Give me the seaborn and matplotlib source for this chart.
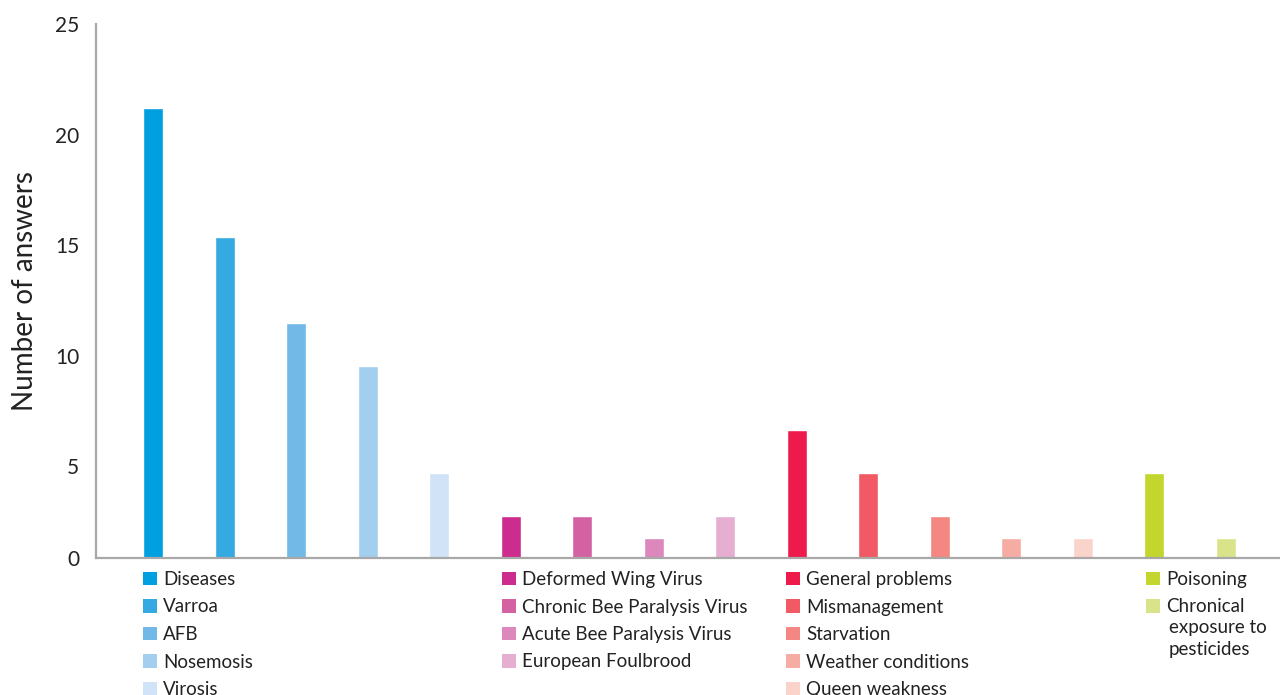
import matplotlib
matplotlib.use("Agg")
import matplotlib.pyplot as plt
import seaborn as sns
import pandas as pd
from matplotlib.patches import Patch

# values
causes = ["Diseases", "Varroa", "AFB", "Nosemosis", "Virosis",
          "Deformed Wing Virus", "Chronic Bee Paralysis Virus",
          "Acute Bee Paralysis Virus", "European Foulbrood",
          "General problems", "Mismanagement", "Starvation",
          "Weather conditions", "Queen weakness",
          "Poisoning", "Chronical exposure to pesticides"]
answers = [21.2, 15.36, 11.47, 9.52, 4.68,
           2.73, 2.73, 1.73, 2.73,
           6.63, 4.68, 2.73, 1.73, 1.73,
           4.68, 1.73]
bar_colors = ["#009FDF", "#35A9E1", "#72B9E7", "#A3CFEF", "#D0E3F7",
              "#CB2C8E", "#D462A3", "#DC88BC", "#E6AED0",
              "#EE1A4B", "#F15A64", "#F48781", "#F7ACA3", "#FAD3CB",
              "#C2D62E", "#D9E48A"]
legend_labels = causes[:-1] + ["Chronical"]
extra_lines = ["exposure to", "pesticides"]
legend_groups = [[0, 1, 2, 3, 4], [5, 6, 7, 8], [9, 10, 11, 12, 13], [14, 15]]
y_ticks = [0.84, 5, 10, 15, 20, 25]
y_ticklabels = ["0", "5", "10", "15", "20", "25"]

sns.set_theme(style="white")
plt.rcParams['font.family'] = ['Lato', 'DejaVu Sans']

fig = plt.figure(figsize=(12.8, 6.95), dpi=100)
ax = fig.add_axes([0.075, 0.197, 0.925, 0.768])

df = pd.DataFrame({"cause": causes, "answers": answers})
sns.barplot(data=df, x="cause", y="answers", hue="cause", palette=bar_colors,
            width=0.28, saturation=1, legend=False, ax=ax)

ax.set_xlim(-0.8, 15.76)
ax.set_ylim(0.84, 25)
ax.set_yticks(y_ticks)
ax.set_yticklabels(y_ticklabels, fontsize=15, color="#222222")
ax.set_xticks([])
ax.set_xlabel("")
ax.set_ylabel("Number of answers", fontsize=20, color="#222222", labelpad=12)
ax.tick_params(axis="y", length=0, pad=12)

for side in ["top", "right"]:
    ax.spines[side].set_visible(False)
for side in ["left", "bottom"]:
    ax.spines[side].set_color("#A8A8A8")
    ax.spines[side].set_linewidth(1.6)

# legend split in four columns under the bars
col_x = [143, 502, 786, 1146]
for gx, group in zip(col_x, legend_groups):
    handles = [Patch(facecolor=bar_colors[i], edgecolor="none") for i in group]
    labels = [legend_labels[i] for i in group]
    fig.legend(handles, labels, loc="upper left",
               bbox_to_anchor=(gx / 1280, 1 - 571 / 695),
               frameon=False, fontsize=13.5, borderpad=0, borderaxespad=0,
               handlelength=0.72, handleheight=0.72, handletextpad=0.35,
               labelspacing=0.56, labelcolor="#222222")

# hanging lines of the last legend entry
for k, line in enumerate(extra_lines):
    fig.text(1169 / 1280, 1 - (628 + 22 * k) / 695, line, fontsize=13.5,
             color="#222222", ha="left", va="center")

fig.savefig("out.png", dpi=100)
